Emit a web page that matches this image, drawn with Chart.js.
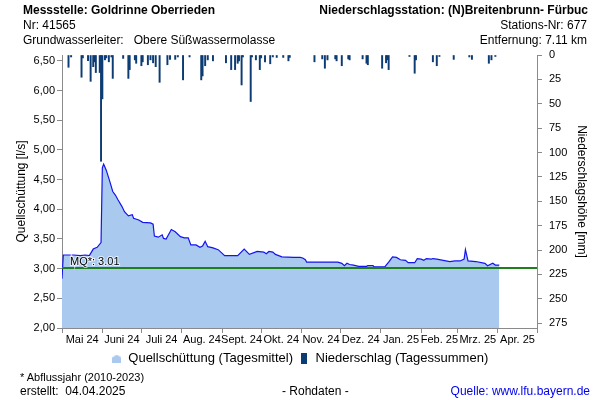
<!DOCTYPE html>
<html>
<head>
<meta charset="utf-8">
<script src="https://cdn.jsdelivr.net/npm/chart.js@4.4.1/dist/chart.umd.min.js"></script>
<style>
  body { margin: 0; background: #fff; }
  #wrap { position: relative; width: 600px; height: 400px; font-family: "Liberation Sans", Arial, sans-serif; color: #000; }
  #wrap canvas { position: absolute; left: 0; top: 0; }
  .txt { position: absolute; font-size: 12px; line-height: 14px; white-space: nowrap; }
  .small { font-size: 11px; }
</style>
</head>
<body>
<div id="wrap">
  <canvas id="chart" width="600" height="400"></canvas>
  <div class="txt" style="left:23px;top:3px;font-weight:bold">Messstelle: Goldrinne Oberrieden</div>
  <div class="txt" style="left:23px;top:18px">Nr: 41565</div>
  <div class="txt" style="left:23px;top:33px">Grundwasserleiter:&nbsp;&nbsp;&nbsp;Obere Süßwassermolasse</div>
  <div class="txt" style="right:12px;top:3px;font-weight:bold">Niederschlagsstation: (N)Breitenbrunn- Fürbuc</div>
  <div class="txt" style="right:13px;top:18px">Stations-Nr: 677</div>
  <div class="txt" style="right:13px;top:33px">Entfernung: 7.11 km</div>
  <div class="txt small" style="left:20px;top:370px">* Abflussjahr (2010-2023)</div>
  <div class="txt" style="left:20px;top:384px">erstellt:&nbsp;&nbsp;04.04.2025</div>
  <div class="txt" style="left:282px;top:384px">- Rohdaten -</div>
  <div class="txt" style="right:10px;top:384px;color:#0000ee">Quelle: www.lfu.bayern.de</div>
</div>
<script>
// Quellschüttung (Tagesmittel), l/s
const flowDates = [
  '2024-05-01', '2024-05-02', '2024-05-10', '2024-05-15', '2024-05-19', '2024-05-22', '2024-05-25', '2024-05-28',
  '2024-05-31', '2024-06-01', '2024-06-02', '2024-06-04', '2024-06-06', '2024-06-07', '2024-06-09', '2024-06-11',
  '2024-06-13', '2024-06-16', '2024-06-18', '2024-06-21', '2024-06-24', '2024-06-25', '2024-06-29', '2024-07-02',
  '2024-07-08', '2024-07-10', '2024-07-11', '2024-07-14', '2024-07-17', '2024-07-18', '2024-07-20', '2024-07-24',
  '2024-07-27', '2024-07-31', '2024-08-03', '2024-08-06', '2024-08-08', '2024-08-12', '2024-08-15', '2024-08-17',
  '2024-08-19', '2024-08-21', '2024-08-25', '2024-08-29', '2024-09-03', '2024-09-13', '2024-09-18', '2024-09-22',
  '2024-09-28', '2024-10-03', '2024-10-05', '2024-10-07', '2024-10-10', '2024-10-12', '2024-10-17', '2024-10-26',
  '2024-10-31', '2024-11-02', '2024-11-04', '2024-11-05', '2024-11-29', '2024-12-02', '2024-12-04', '2024-12-06',
  '2024-12-08', '2024-12-11', '2024-12-15', '2024-12-21', '2024-12-22', '2024-12-26', '2024-12-27', '2025-01-04',
  '2025-01-07', '2025-01-10', '2025-01-13', '2025-01-16', '2025-01-20', '2025-01-22', '2025-01-27', '2025-01-29',
  '2025-02-01', '2025-02-03', '2025-02-05', '2025-02-09', '2025-02-10', '2025-02-13', '2025-02-18', '2025-02-23',
  '2025-02-27', '2025-03-03', '2025-03-06', '2025-03-07', '2025-03-09', '2025-03-15', '2025-03-22', '2025-03-24',
  '2025-03-28', '2025-03-30', '2025-04-02'
];
const flowValues = [
  2.83, 3.23, 3.23, 3.22, 3.23, 3.22, 3.33, 3.36,
  3.44, 4.70, 4.76, 4.66, 4.52, 4.45, 4.30, 4.24,
  4.16, 4.05, 3.96, 3.89, 3.91, 3.85, 3.82, 3.78,
  3.77, 3.75, 3.55, 3.53, 3.57, 3.51, 3.50, 3.66,
  3.62, 3.54, 3.52, 3.52, 3.40, 3.40, 3.36, 3.38,
  3.46, 3.37, 3.35, 3.32, 3.22, 3.22, 3.33, 3.24,
  3.29, 3.28, 3.25, 3.29, 3.28, 3.24, 3.20, 3.19,
  3.19, 3.18, 3.15, 3.11, 3.11, 3.09, 3.05, 3.09,
  3.07, 3.06, 3.04, 3.04, 3.05, 3.05, 3.03, 3.03,
  3.11, 3.20, 3.19, 3.15, 3.14, 3.10, 3.10, 3.17,
  3.16, 3.14, 3.17, 3.16, 3.17, 3.16, 3.14, 3.12,
  3.13, 3.13, 3.16, 3.32, 3.13, 3.12, 3.09, 3.05,
  3.09, 3.06, 3.06
];

// Niederschlag (Tagessummen), mm
const rainDates = [
  '2024-05-06', '2024-05-08', '2024-05-16', '2024-05-17', '2024-05-21', '2024-05-23', '2024-05-25', '2024-05-26',
  '2024-05-27', '2024-05-30', '2024-05-31', '2024-06-01', '2024-06-03', '2024-06-04', '2024-06-06', '2024-06-08',
  '2024-06-09', '2024-06-17', '2024-06-21', '2024-06-22', '2024-06-26', '2024-06-27', '2024-07-01', '2024-07-02',
  '2024-07-06', '2024-07-08', '2024-07-10', '2024-07-12', '2024-07-15', '2024-07-21', '2024-07-23', '2024-07-27',
  '2024-07-29', '2024-08-02', '2024-08-07', '2024-08-16', '2024-08-17', '2024-08-19', '2024-08-21', '2024-08-25',
  '2024-09-04', '2024-09-08', '2024-09-11', '2024-09-13', '2024-09-14', '2024-09-16', '2024-09-17', '2024-09-23',
  '2024-09-24', '2024-09-27', '2024-09-30', '2024-10-01', '2024-10-04', '2024-10-08', '2024-10-10', '2024-10-13',
  '2024-10-18', '2024-10-22', '2024-10-23', '2024-11-11', '2024-11-17', '2024-11-19', '2024-11-21', '2024-11-27',
  '2024-11-28', '2024-12-02', '2024-12-07', '2024-12-08', '2024-12-18', '2024-12-21', '2024-12-22', '2025-01-02',
  '2025-01-05', '2025-01-06', '2025-01-07', '2025-01-23', '2025-01-27', '2025-01-28', '2025-02-10', '2025-02-13',
  '2025-02-15', '2025-02-26', '2025-03-10', '2025-03-12', '2025-03-25', '2025-03-27', '2025-03-30'
];
const rainValues = [
  12.6, 2, 22.8, 3, 5.8, 27, 12, 7,
  18, 18, 109, 45, 5, 3, 7, 2,
  24, 3.5, 24, 15, 5, 8.5, 11, 7,
  10, 5, 8, 12, 28, 10, 4.5, 4.5,
  2, 25.5, 2, 25.5, 21.5, 11, 5, 6,
  8, 15, 15, 8.5, 6, 30.7, 2, 47.7,
  2, 5, 15, 3, 7, 9, 2, 2.5,
  2.5, 6, 2.5, 7, 4, 13.6, 5, 4,
  6, 11, 4, 5, 4, 8.5, 10, 13.6,
  8, 5, 15, 1.5, 18.7, 5, 7, 11,
  1.5, 4.5, 2, 4.5, 8.5, 5, 1.5
];

const mqValue = 3.01;

const monthStarts = [
  '2024-05-01', '2024-06-01', '2024-07-01', '2024-08-01', '2024-09-01', '2024-10-01', '2024-11-01',
  '2024-12-01', '2025-01-01', '2025-02-01', '2025-03-01', '2025-04-01', '2025-05-01'
];
const monthLabels = ['Mai 24', 'Juni 24', 'Juli 24', 'Aug. 24', 'Sept. 24', 'Okt. 24', 'Nov. 24',
  'Dez. 24', 'Jan. 25', 'Feb. 25', 'Mrz. 25', 'Apr. 25'];

const flowTicks = [2, 2.5, 3, 3.5, 4, 4.5, 5, 5.5, 6, 6.5];
const rainTicks = [0, 25, 50, 75, 100, 125, 150, 175, 200, 225, 250, 275];

// days since 1 May 2024
const dayOf = (s) => {
  const [y, m, d] = s.split('-').map(Number);
  return (Date.UTC(y, m - 1, d) - Date.UTC(2024, 4, 1)) / 86400000;
};

const monthDays = monthStarts.map(dayOf);
const monthMids = monthLabels.map((_, i) => (monthDays[i] + monthDays[i + 1]) / 2);

const flowPoints = flowDates.map((d, i) => ({ x: dayOf(d), y: flowValues[i] }));
const rainPoints = rainDates.map((d, i) => ({ x: dayOf(d), y: rainValues[i] }));
const mqPoints = [{ x: monthDays[0], y: mqValue }, { x: monthDays[monthDays.length - 1], y: mqValue }];

// small legend icons
const makeIcon = (w, h, draw) => {
  const c = document.createElement('canvas');
  c.width = w; c.height = h;
  draw(c.getContext('2d'));
  return c;
};
const flowIcon = makeIcon(9, 8, (g) => {
  g.fillStyle = '#a9c9ef';
  g.beginPath();
  g.moveTo(4.5, 0); g.lineTo(9, 3); g.lineTo(9, 8); g.lineTo(0, 8); g.lineTo(0, 3);
  g.closePath(); g.fill();
});
const rainIcon = makeIcon(6, 11, (g) => {
  g.fillStyle = '#0d3c74';
  g.fillRect(0, 0, 6, 11);
});

const mqLabel = {
  id: 'mqLabel',
  afterDatasetsDraw(chart) {
    const { ctx, chartArea, scales } = chart;
    const y = scales.y.getPixelForValue(mqValue);
    ctx.save();
    ctx.font = '11px "Liberation Sans", Arial, sans-serif';
    ctx.textBaseline = 'bottom';
    ctx.lineWidth = 2;
    ctx.strokeStyle = 'rgba(255,255,255,0.7)';
    ctx.strokeText('MQ*: 3.01', chartArea.left + 8, y - 1);
    ctx.fillStyle = '#000';
    ctx.fillText('MQ*: 3.01', chartArea.left + 8, y - 1);
    ctx.restore();
  }
};

const axisGrey = '#8a8a8a';
const tickFont = { family: '"Liberation Sans", Arial, sans-serif', size: 11 };

new Chart(document.getElementById('chart'), {
  data: {
    datasets: [
      {
        type: 'bar',
        label: 'Niederschlag (Tagessummen)',
        data: rainPoints,
        yAxisID: 'y2',
        backgroundColor: '#0d3c74',
        barThickness: 1.3,
        order: 1
      },
      {
        type: 'line',
        label: 'MQ',
        data: mqPoints,
        yAxisID: 'y',
        borderColor: '#1f7f1f',
        borderWidth: 2,
        pointRadius: 0,
        fill: false,
        order: 2
      },
      {
        type: 'line',
        label: 'Quellschüttung (Tagesmittel)',
        data: flowPoints,
        yAxisID: 'y',
        borderColor: '#1414f0',
        borderWidth: 1.2,
        backgroundColor: '#a9c9ef',
        pointRadius: 0,
        tension: 0,
        fill: 'start',
        order: 3
      }
    ]
  },
  options: {
    responsive: false,
    animation: false,
    layout: { padding: { top: 55, left: 0, right: 0, bottom: 25 } },
    plugins: {
      tooltip: { enabled: false },
      legend: {
        position: 'bottom',
        reverse: true,
        labels: {
          usePointStyle: true,
          pointStyleWidth: 10,
          padding: 6,
          color: '#000',
          font: { family: '"Liberation Sans", Arial, sans-serif', size: 13 },
          filter: (item) => item.text !== 'MQ',
          generateLabels: (chart) => chart.data.datasets.map((ds, i) => ({
            text: ds.label,
            datasetIndex: i,
            pointStyle: i === 0 ? rainIcon : flowIcon,
            fillStyle: 'transparent',
            strokeStyle: 'transparent',
            lineWidth: 0,
            fontColor: '#000'
          }))
        }
      }
    },
    scales: {
      x: {
        type: 'linear',
        offset: false,
        min: monthDays[0],
        max: monthDays[monthDays.length - 1],
        afterBuildTicks: (scale) => {
          scale.ticks = monthDays.map((v) => ({ value: v }))
            .concat(monthMids.map((v) => ({ value: v, mid: true })))
            .sort((a, b) => a.value - b.value);
        },
        afterFit: (scale) => { scale.height = 18; },
        ticks: {
          autoSkip: false,
          maxRotation: 0,
          padding: 0,
          color: '#000',
          font: tickFont,
          callback: (value) => {
            const i = monthMids.indexOf(value);
            return i >= 0 ? monthLabels[i] : '';
          }
        },
        grid: {
          drawOnChartArea: false,
          offset: false,
          tickLength: 5,
          color: (ctx) => (ctx.tick && ctx.tick.mid ? 'rgba(0,0,0,0)' : axisGrey)
        },
        border: { color: axisGrey }
      },
      y: {
        position: 'left',
        min: 2,
        max: 6.6,
        afterBuildTicks: (scale) => { scale.ticks = flowTicks.map((v) => ({ value: v })); },
        afterFit: (scale) => { scale.width = 62; },
        ticks: {
          padding: 2,
          color: '#000',
          font: tickFont,
          callback: (v) => v.toFixed(2).replace('.', ',')
        },
        grid: { drawOnChartArea: false, tickLength: 5, color: axisGrey },
        border: { color: axisGrey },
        title: {
          display: true,
          text: 'Quellschüttung [l/s]',
          color: '#000',
          font: { family: '"Liberation Sans", Arial, sans-serif', size: 12 },
          padding: { top: 14, bottom: 0 }
        }
      },
      y2: {
        position: 'right',
        reverse: true,
        min: 0,
        max: 280,
        afterBuildTicks: (scale) => { scale.ticks = rainTicks.map((v) => ({ value: v })); },
        afterFit: (scale) => { scale.width = 63; },
        ticks: { padding: 7, color: '#000', font: tickFont },
        grid: { drawOnChartArea: false, tickLength: 5, color: axisGrey },
        border: { color: axisGrey },
        title: {
          display: true,
          text: 'Niederschlagshöhe [mm]',
          color: '#000',
          font: { family: '"Liberation Sans", Arial, sans-serif', size: 12 },
          padding: { top: 11, bottom: 0 }
        }
      }
    }
  },
  plugins: [mqLabel]
});
</script>
</body>
</html>
